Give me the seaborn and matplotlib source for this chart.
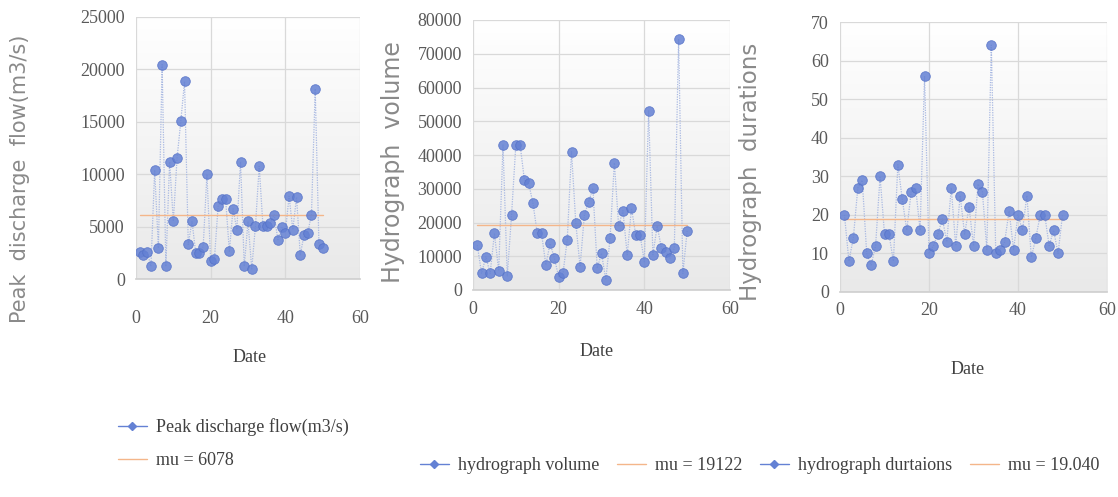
import numpy as np
import pandas as pd
import matplotlib
matplotlib.use("Agg")
import matplotlib.pyplot as plt
from matplotlib.colors import LinearSegmentedColormap
from matplotlib.lines import Line2D
import seaborn as sns

# ---- data -------------------------------------------------------------
event = list(range(1, 51))

peak_flow = [2600, 2300, 2600, 1200, 10400, 2950, 20450, 1200, 11200, 5500,
             11550, 15050, 18850, 3300, 5500, 2500, 2500, 3100, 10000, 1700,
             1900, 6950, 7650, 7650, 2650, 6700, 4700, 11200, 1200, 5500,
             950, 5100, 10750, 5100, 5100, 5350, 6150, 3750, 5000, 4400,
             7900, 4700, 7800, 2300, 4200, 4400, 6150, 18150, 3300, 2950]

hydro_volume = [13300, 4900, 9900, 4900, 16800, 5700, 43000, 4150, 22200, 43000,
                43000, 32600, 31600, 25700, 16800, 16800, 7400, 13800, 9400, 3950,
                4900, 14800, 41000, 19750, 6900, 22200, 26200, 30100, 6400, 10900,
                3000, 15300, 37700, 19000, 23500, 10400, 24200, 16300, 16300, 8400,
                53100, 10400, 19000, 12300, 11400, 9400, 12300, 74400, 4900, 17500]

hydro_duration = [20, 8, 14, 27, 29, 10, 7, 12, 30, 15,
                  15, 8, 33, 24, 16, 26, 27, 16, 56, 10,
                  12, 15, 19, 13, 27, 12, 25, 15, 22, 12,
                  28, 26, 11, 64, 10, 11, 13, 21, 11, 20,
                  16, 25, 9, 14, 20, 20, 12, 16, 10, 20]

mu_values = [6078, 19122, 19.040]
mu_labels = ["mu = 6078", "mu = 19122", "mu = 19.040"]
series_names = ["Peak discharge flow(m3/s)", "hydrograph volume", "hydrograph durtaions"]
y_titles = ["Peak  discharge  flow(m3/s)", "Hydrograph  volume", "Hydrograph  durations"]
y_limits = [(0, 25000, 5000), (0, 80000, 10000), (0, 70, 10)]
x_ticks = [0, 20, 40, 60]

# ---- style ------------------------------------------------------------
sns.set_theme(style="white")
plt.rcParams["font.family"] = ["Liberation Serif", "DejaVu Serif"]

POINT = "#6481d4"
LINK = "#a9b9e2"
MEAN = "#f4b68a"
GRID = "#d9d9d9"
TICK = "#595959"

fig = plt.figure(figsize=(11.18, 4.97), dpi=100)

W, H = 1118, 497
boxes = [(136, 17, 360, 279), (473, 20, 730, 290), (840, 22, 1107, 292)]
axes = [fig.add_axes([l / W, (H - b) / H, (r - l) / W, (b - t) / H]) for (l, t, r, b) in boxes]

shade = LinearSegmentedColormap.from_list("shade", ["#ffffff", "#e9e9e9"])
frames = [
    pd.DataFrame({"Date": event, "value": peak_flow}),
    pd.DataFrame({"Date": event, "value": hydro_volume}),
    pd.DataFrame({"Date": event, "value": hydro_duration}),
]

for i, (ax, df) in enumerate(zip(axes, frames)):
    y0, y1, ystep = y_limits[i]
    ax.imshow(np.linspace(0, 1, 256)[:, None], extent=[0, 60, y0, y1],
              aspect="auto", cmap=shade, zorder=0, origin="upper")
    sns.lineplot(data=df, x="Date", y="value", ax=ax, color=LINK, lw=0.9,
                 linestyle=(0, (1, 1)), zorder=2)
    ax.plot([df["Date"].iloc[0], df["Date"].iloc[-1]], [mu_values[i]] * 2,
            color=MEAN, lw=1.0, zorder=3)
    sns.scatterplot(data=df, x="Date", y="value", ax=ax, color=POINT, s=48,
                    edgecolor="#5572c8", linewidth=0.6, alpha=0.85, zorder=4)

    ax.set_xlim(0, 60)
    ax.set_ylim(y0, y1)
    ax.set_xticks(x_ticks)
    ax.set_yticks(np.arange(y0, y1 + ystep / 2, ystep))
    ax.grid(True, color=GRID, lw=0.9)
    ax.set_axisbelow(True)
    for side in ["top", "right", "left"]:
        ax.spines[side].set_visible(False)
    ax.spines["bottom"].set_color("#d0d0d0")
    ax.tick_params(axis="both", length=0, labelsize=13, colors=TICK)
    ax.tick_params(axis="y", pad=8)
    ax.set_xlabel("")
    ax.set_ylabel("")

axes[0].tick_params(axis="x", pad=22)
axes[1].tick_params(axis="x", pad=8)
axes[2].tick_params(axis="x", pad=7)

# x titles
for (x, y) in [(250, 358), (597, 352), (968, 370)]:
    fig.text(x / W, 1 - y / H, "Date", ha="center", va="center", fontsize=13, color="#404040")

# y titles
for (x, y), txt, fs in zip([(20, 179), (393, 162), (750, 172)], y_titles, [15, 17, 16.5]):
    fig.text(x / W, 1 - y / H, txt, ha="center", va="center", rotation=90,
             fontsize=fs, color="#8a8a8a", family=["DejaVu Sans"])

# legends
def series_handle():
    return Line2D([], [], color=POINT, lw=1.0, marker="D", markersize=4,
                  markerfacecolor=POINT, markeredgecolor=POINT)

def mean_handle():
    return Line2D([], [], color=MEAN, lw=1.0)

leg_kw = dict(frameon=False, fontsize=13, handlelength=1.6, handletextpad=0.5,
              labelcolor="#404040", borderaxespad=0, borderpad=0)

fig.legend([series_handle(), mean_handle()], [series_names[0], mu_labels[0]],
           loc="upper left", bbox_to_anchor=(118 / W, 1 - 418 / H),
           labelspacing=0.9, ncol=1, **leg_kw)
fig.legend([series_handle(), mean_handle()], [series_names[1], mu_labels[1]],
           loc="center left", bbox_to_anchor=(420 / W, 1 - 466 / H),
           ncol=2, columnspacing=1.0, **leg_kw)
fig.legend([series_handle(), mean_handle()], [series_names[2], mu_labels[2]],
           loc="center left", bbox_to_anchor=(760 / W, 1 - 466 / H),
           ncol=2, columnspacing=1.0, **leg_kw)

fig.savefig("out.png", dpi=100)
